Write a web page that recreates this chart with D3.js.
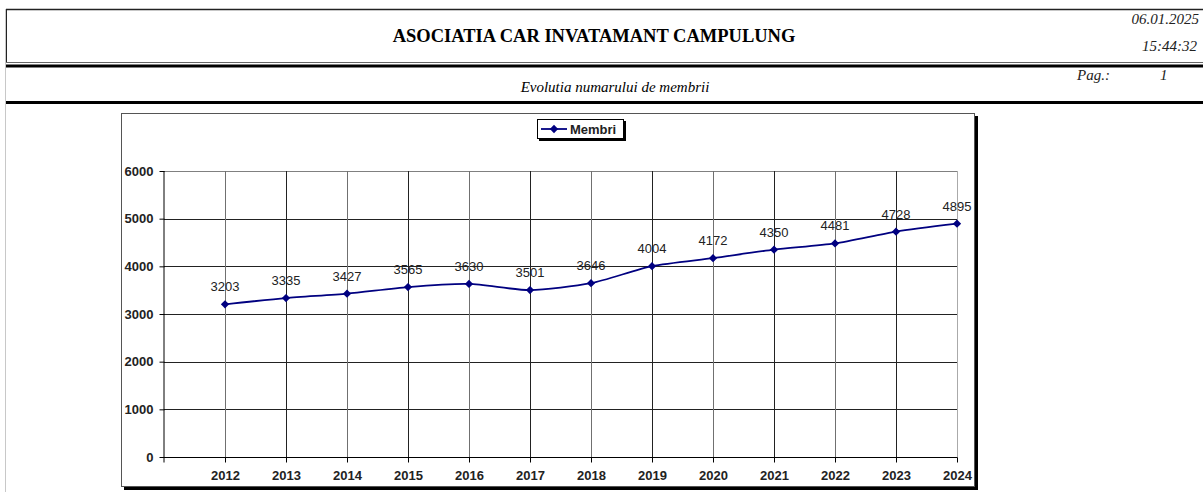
<!DOCTYPE html>
<html>
<head>
<meta charset="utf-8">
<script src="https://cdn.jsdelivr.net/npm/d3@7"></script>
<style>
  body { margin: 0; background: #fff; }
  svg { display: block; }
</style>
</head>
<body>
<div id="chart"></div>
<script>
var years = ["2012", "2013", "2014", "2015", "2016", "2017", "2018", "2019", "2020", "2021", "2022", "2023", "2024"];
var membri = [3203, 3335, 3427, 3565, 3630, 3501, 3646, 4004, 4172, 4350, 4481, 4728, 4895];
var yTicks = [0, 1000, 2000, 3000, 4000, 5000, 6000];

var W = 1203, H = 492,
    plot = {left: 164, right: 957, top: 171, bottom: 457},
    step = (plot.right - plot.left) / years.length;

var svg = d3.select("#chart").append("svg")
  .attr("width", W)
  .attr("height", H);

// report header
svg.append("line").attr("x1", 5.5).attr("y1", 9).attr("x2", 5.5).attr("y2", H)
  .style("stroke", "#c8c8c8");
svg.append("line").attr("x1", 6.5).attr("y1", 9).attr("x2", 6.5).attr("y2", 63)
  .style("stroke", "#222");
svg.append("line").attr("x1", 6).attr("y1", 9.5).attr("x2", W).attr("y2", 9.5)
  .style("stroke", "#222").style("stroke-width", 1.5);
svg.append("line").attr("x1", 6).attr("y1", 62.5).attr("x2", W).attr("y2", 62.5)
  .style("stroke", "#666");
svg.append("rect").attr("x", 6).attr("y", 64.5).attr("width", W).attr("height", 3).attr("fill", "#000");
svg.append("rect").attr("x", 6).attr("y", 101).attr("width", W).attr("height", 3).attr("fill", "#000");

svg.append("text")
  .text("ASOCIATIA CAR INVATAMANT CAMPULUNG")
  .attr("x", 594).attr("y", 42)
  .attr("text-anchor", "middle")
  .attr("font-family", "Liberation Serif, Times New Roman, serif")
  .attr("font-weight", "bold")
  .attr("font-size", "18.5px");

svg.append("text")
  .text("Evolutia numarului de membrii")
  .attr("x", 615).attr("y", 92)
  .attr("text-anchor", "middle")
  .attr("font-family", "Liberation Serif, Times New Roman, serif")
  .attr("font-style", "italic")
  .attr("font-size", "15px");

var info = [
  {t: "06.01.2025", x: 1199, y: 24, anchor: "end"},
  {t: "15:44:32", x: 1197, y: 51, anchor: "end"},
  {t: "Pag.:", x: 1077, y: 80, anchor: "start"},
  {t: "1", x: 1160, y: 80, anchor: "start"}
];
svg.selectAll("text.info")
  .data(info)
  .enter().append("text")
    .attr("class", "info")
    .text(function (d) { return d.t; })
    .attr("x", function (d) { return d.x; })
    .attr("y", function (d) { return d.y; })
    .attr("text-anchor", function (d) { return d.anchor; })
    .attr("font-family", "Liberation Serif, serif")
    .attr("font-style", "italic")
    .attr("font-size", "15px")
    .attr("fill", "#222");

// chart frame with shadow
svg.append("rect").attr("x", 124).attr("y", 116).attr("width", 854).attr("height", 374).attr("fill", "#000");
svg.append("rect").attr("x", 121.5).attr("y", 113.5).attr("width", 853).attr("height", 373)
  .attr("fill", "#fff").style("stroke", "#555");

var x = d3.scalePoint()
  .domain(years)
  .range([plot.left + step, plot.right]);

var y = d3.scaleLinear()
  .domain([0, 6000])
  .range([plot.bottom, plot.top]);

var canvas = svg.append("g");

// horizontal grid
canvas.selectAll("line.hgrid")
  .data(yTicks.slice(1))
  .enter().append("line")
    .attr("class", "hgrid")
    .attr("x1", plot.left).attr("x2", plot.right)
    .attr("y1", function (d) { return Math.round(y(d)) + 0.5; })
    .attr("y2", function (d) { return Math.round(y(d)) + 0.5; })
    .style("stroke", function (d) { return d == 6000 ? "#808080" : "#222"; });

// vertical grid
canvas.selectAll("line.vgrid")
  .data(years)
  .enter().append("line")
    .attr("class", "vgrid")
    .attr("y1", plot.top).attr("y2", plot.bottom)
    .attr("x1", function (d) { return Math.round(x(d)) + 0.5; })
    .attr("x2", function (d) { return Math.round(x(d)) + 0.5; })
    .style("stroke", function (d, i) { return i == years.length - 1 ? "#aaa" : (i % 2 ? "#222" : "#707070"); });

// y axis
var yAxis = canvas.append("g")
  .attr("transform", "translate(" + (plot.left + 0.5) + ",0)")
  .call(d3.axisLeft(y).tickValues(yTicks).tickFormat(d3.format("d")).tickSize(5).tickPadding(6));
yAxis.select(".domain").attr("d", "M-0.5," + plot.top + "V" + (plot.bottom + 0.5)).style("stroke", "#000");
yAxis.selectAll(".tick line").style("stroke", "#000");
yAxis.selectAll(".tick text")
  .attr("font-family", "Liberation Sans, Arial, sans-serif")
  .attr("font-weight", "bold")
  .attr("font-size", "13px")
  .attr("fill", "#222");

// x axis
var xAxis = canvas.append("g")
  .attr("transform", "translate(0," + (plot.bottom + 0.5) + ")")
  .call(d3.axisBottom(x).tickSize(5).tickPadding(8).tickSizeOuter(0));
xAxis.select(".domain").attr("d", "M" + plot.left + ",0H" + (plot.right + 0.5)).style("stroke", "#000");
xAxis.selectAll(".tick line").style("stroke", "#000");
xAxis.selectAll(".tick text")
  .attr("font-family", "Liberation Sans, Arial, sans-serif")
  .attr("font-weight", "bold")
  .attr("font-size", "13px")
  .attr("fill", "#222");
xAxis.append("line").attr("x1", plot.left).attr("x2", plot.left).attr("y1", 0).attr("y2", 5).style("stroke", "#000");

// series line
var line = d3.line()
  .x(function (d, i) { return x(years[i]); })
  .y(function (d) { return y(d); })
  .curve(d3.curveCardinal.tension(0.3));

canvas.append("path")
  .datum(membri)
  .attr("d", line)
  .style("fill", "none")
  .style("stroke", "#000080")
  .style("stroke-width", 1.8);

var diamond = d3.symbol().type(d3.symbolDiamond2).size(44);

canvas.selectAll("path.marker")
  .data(membri)
  .enter().append("path")
    .attr("class", "marker")
    .attr("d", diamond)
    .attr("transform", function (d, i) { return "translate(" + x(years[i]) + "," + y(d) + ")"; })
    .attr("fill", "#000080");

canvas.selectAll("text.value_label")
  .data(membri)
  .enter().append("text")
    .attr("class", "value_label")
    .text(function (d) { return d; })
    .attr("x", function (d, i) { return x(years[i]); })
    .attr("y", function (d) { return y(d) - 13; })
    .attr("text-anchor", "middle")
    .attr("font-family", "Liberation Sans, Arial, sans-serif")
    .attr("font-size", "13px")
    .attr("fill", "#222");

// legend
var legend = svg.append("g").attr("transform", "translate(537,119)");
legend.append("rect").attr("x", 2).attr("y", 2).attr("width", 87).attr("height", 20).attr("fill", "#000");
legend.append("rect").attr("x", 0.5).attr("y", 0.5).attr("width", 86).attr("height", 19)
  .attr("fill", "#fff").style("stroke", "#000");
legend.append("line").attr("x1", 4).attr("x2", 30).attr("y1", 10).attr("y2", 10)
  .style("stroke", "#000080").style("stroke-width", 1.8);
legend.append("path").attr("d", diamond).attr("transform", "translate(17,10)").attr("fill", "#000080");
legend.append("text").text("Membri")
  .attr("x", 33).attr("y", 15)
  .attr("font-family", "Liberation Sans, Arial, sans-serif")
  .attr("font-weight", "bold")
  .attr("font-size", "13px")
  .attr("fill", "#222");
</script>
</body>
</html>
